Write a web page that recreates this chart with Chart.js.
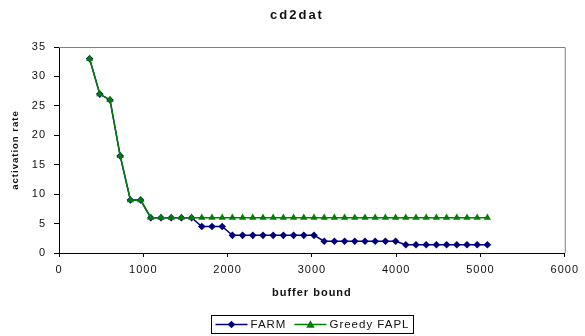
<!DOCTYPE html>
<html>
<head>
<meta charset="utf-8">
<title>cd2dat</title>
<script src="https://cdn.jsdelivr.net/npm/chart.js@4.4.1/dist/chart.umd.min.js"></script>
<style>
    html, body { margin: 0; padding: 0; background: #fff; }
    #wrap { width: 585px; height: 336px; }
</style>
</head>
<body>
<div id="wrap"><canvas id="chart"></canvas></div>
<script>
// Values
const bufferBound = [363, 484, 605, 726, 847, 968, 1089, 1210, 1331, 1452,
    1573, 1694, 1815, 1936, 2057, 2178, 2299, 2420, 2541, 2662,
    2783, 2904, 3025, 3146, 3267, 3388, 3509, 3630, 3751, 3872,
    3993, 4114, 4235, 4356, 4477, 4598, 4719, 4840, 4961, 5082];

const farmRate = [33, 27, 26, 16.5, 9, 9, 6, 6, 6, 6,
    6, 4.5, 4.5, 4.5, 3, 3, 3, 3, 3, 3,
    3, 3, 3, 2, 2, 2, 2, 2, 2, 2,
    2, 1.4, 1.4, 1.4, 1.4, 1.4, 1.4, 1.4, 1.4, 1.4];

const greedyRate = [33, 27, 26, 16.5, 9, 9, 6, 6, 6, 6,
    6, 6, 6, 6, 6, 6, 6, 6, 6, 6,
    6, 6, 6, 6, 6, 6, 6, 6, 6, 6,
    6, 6, 6, 6, 6, 6, 6, 6, 6, 6];

const xTicks = [0, 1000, 2000, 3000, 4000, 5000, 6000];
const yTicks = [0, 5, 10, 15, 20, 25, 30, 35];

const FONT = "'Liberation Sans', Arial, sans-serif";
const TEXT = '#111';

// Scanned text looks a bit spread out, so add some letter spacing
const spacing = {
    id: 'spacing',
    beforeUpdate(chart) { chart.ctx.letterSpacing = '1px'; },
    beforeDraw(chart) { chart.ctx.letterSpacing = '1px'; }
};

// Gray top and right edges of the plot box
const frame = {
    id: 'frame',
    beforeDatasetsDraw(chart) {
        const { ctx, chartArea: a } = chart;
        ctx.save();
        ctx.strokeStyle = '#808080';
        ctx.lineWidth = 1;
        ctx.beginPath();
        ctx.moveTo(a.left, a.top + 0.5);
        ctx.lineTo(a.right + 0.5, a.top + 0.5);
        ctx.lineTo(a.right + 0.5, a.bottom);
        ctx.stroke();
        ctx.restore();
    }
};

function drawMarker(ctx, style, x, y, r, color) {
    ctx.fillStyle = color;
    ctx.beginPath();
    if (style === 'triangle') {
        ctx.moveTo(x, y - r);
        ctx.lineTo(x + r, y + r * 0.8);
        ctx.lineTo(x - r, y + r * 0.8);
    } else {
        ctx.moveTo(x, y - r);
        ctx.lineTo(x + r, y);
        ctx.lineTo(x, y + r);
        ctx.lineTo(x - r, y);
    }
    ctx.closePath();
    ctx.fill();
}

// Title and boxed Excel-style legend
const decorations = {
    id: 'decorations',
    afterDraw(chart) {
        const { ctx, chartArea: a } = chart;
        ctx.save();

        // title
        ctx.letterSpacing = '2px';
        ctx.font = 'bold 13px ' + FONT;
        ctx.fillStyle = TEXT;
        ctx.textAlign = 'center';
        ctx.textBaseline = 'middle';
        ctx.fillText('cd2dat', 297, 15);

        // legend
        ctx.letterSpacing = '1px';
        ctx.font = '11.5px ' + FONT;
        ctx.textAlign = 'left';
        const items = [chart.data.datasets[0], chart.data.datasets[1]];
        const lineLen = 32, gap = 3, itemGap = 8, pad = 4;
        const widths = items.map(d => lineLen + gap + ctx.measureText(d.label).width);
        const total = widths.reduce((s, w) => s + w, 0) + itemGap + pad * 2;
        const boxLeft = Math.round((a.left + a.right) / 2 - total / 2) + 0.5;
        const boxTop = 315.5, boxH = 18;
        ctx.strokeStyle = '#000';
        ctx.lineWidth = 1;
        ctx.strokeRect(boxLeft, boxTop, total, boxH);

        let x = boxLeft + pad;
        const cy = boxTop + boxH / 2;
        items.forEach((d, i) => {
            ctx.strokeStyle = d.borderColor;
            ctx.lineWidth = 1.5;
            ctx.beginPath();
            ctx.moveTo(x, cy);
            ctx.lineTo(x + lineLen, cy);
            ctx.stroke();
            drawMarker(ctx, d.pointStyle, x + lineLen / 2, cy, d.pointRadius, d.borderColor);
            ctx.fillStyle = TEXT;
            ctx.fillText(d.label, x + lineLen + gap, cy + 0.5);
            x += widths[i] + itemGap;
        });
        ctx.restore();
    }
};

const ctx = document.getElementById('chart').getContext('2d');
new Chart(ctx, {
    type: 'scatter',
    data: {
        datasets: [
            {
                label: 'FARM',
                data: bufferBound.map((b, i) => ({ x: b, y: farmRate[i] })),
                showLine: true,
                borderColor: '#000080',
                backgroundColor: '#000080',
                borderWidth: 1.5,
                pointStyle: 'rectRot',
                pointRadius: 3.8,
                pointBorderWidth: 0,
                order: 1
            },
            {
                label: 'Greedy FAPL',
                data: bufferBound.map((b, i) => ({ x: b, y: greedyRate[i] })),
                showLine: true,
                borderColor: '#008000',
                backgroundColor: '#008000',
                borderWidth: 1.5,
                pointStyle: 'triangle',
                pointRadius: 4.2,
                pointBorderWidth: 0,
                order: 0
            }
        ]
    },
    options: {
        responsive: true,
        maintainAspectRatio: false,
        animation: false,
        layout: {
            padding: { top: 47, right: 16, bottom: 28, left: 0 }
        },
        plugins: {
            legend: { display: false },
            title: { display: false },
            tooltip: { enabled: false }
        },
        scales: {
            x: {
                type: 'linear',
                min: 0,
                max: 6000,
                afterBuildTicks: s => { s.ticks = xTicks.map(v => ({ value: v })); },
                afterFit: s => { s.height = 55; },
                border: { color: '#000', width: 1 },
                grid: { drawOnChartArea: false, tickLength: 4, color: '#000' },
                ticks: {
                    color: TEXT,
                    padding: 6,
                    maxRotation: 0,
                    font: { family: FONT, size: 11 },
                    callback: v => String(v)
                },
                title: {
                    display: true,
                    text: 'buffer bound',
                    color: TEXT,
                    font: { family: FONT, size: 11, weight: 'bold' },
                    padding: { top: 0, bottom: 8 }
                }
            },
            y: {
                min: 0,
                max: 35,
                afterBuildTicks: s => { s.ticks = yTicks.map(v => ({ value: v })); },
                afterFit: s => { s.width = 59; },
                border: { color: '#000', width: 1 },
                grid: { drawOnChartArea: false, tickLength: 5, color: '#000' },
                ticks: {
                    color: TEXT,
                    padding: 8,
                    font: { family: FONT, size: 11 },
                    callback: v => String(v)
                },
                title: {
                    display: true,
                    text: 'activation rate',
                    color: TEXT,
                    font: { family: FONT, size: 9.5, weight: 'bold' },
                    padding: { top: 10, bottom: 0 }
                }
            }
        }
    },
    plugins: [spacing, frame, decorations]
});
</script>
</body>
</html>
